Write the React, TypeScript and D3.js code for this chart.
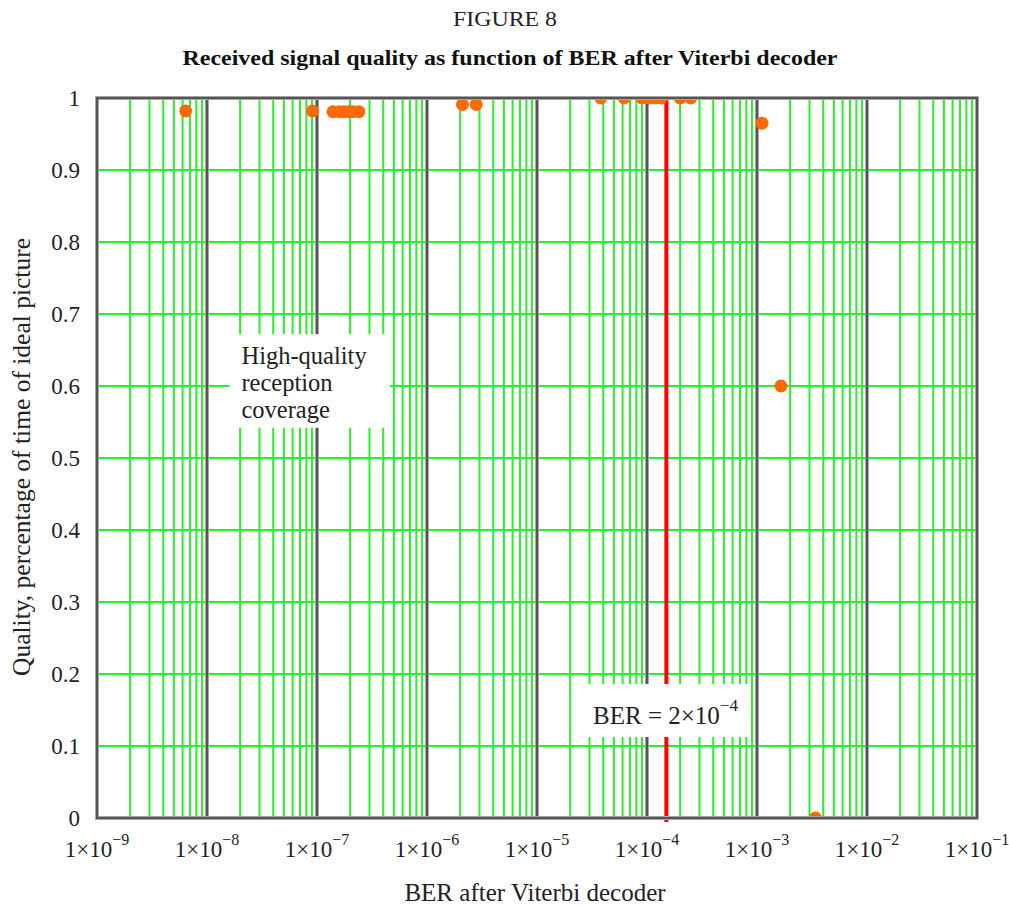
import React from 'react';
import * as d3 from 'd3';

const W = 1009;
const H = 906;

const titleFigure = 'FIGURE 8';
const titleMain = 'Received signal quality as function of BER after Viterbi decoder';
const xAxisTitle = 'BER after Viterbi decoder';
const yAxisTitle = 'Quality, percentage of time of ideal picture';

const xDecadeExponents = [-9, -8, -7, -6, -5, -4, -3, -2, -1];
const yTickValues = [0, 0.1, 0.2, 0.3, 0.4, 0.5, 0.6, 0.7, 0.8, 0.9, 1];
const yTickLabels = ['0', '0.1', '0.2', '0.3', '0.4', '0.5', '0.6', '0.7', '0.8', '0.9', '1'];

const berValues = [
  6.4e-9, 9.1e-8, 1.4e-7, 1.6e-7, 1.75e-7, 1.95e-7, 2.1e-7, 2.4e-7,
  2.1e-6, 2.8e-6,
  3.8e-5, 6.2e-5, 9.0e-5, 1.05e-4, 1.2e-4, 1.35e-4, 2.0e-4, 2.5e-4,
  1.11e-3, 1.65e-3, 3.4e-3,
];
const qualityValues = [
  0.982, 0.982, 0.981, 0.981, 0.981, 0.981, 0.981, 0.981,
  0.991, 0.991,
  1.0, 1.0, 1.0, 1.0, 1.0, 1.0, 1.0, 1.0,
  0.965, 0.6, 0.0,
];

const thresholdBER = 1.5e-4;
const thresholdText = 'BER = 2×10';
const thresholdSup = '−4';

const noteLines = ['High-quality', 'reception', 'coverage'];
const noteBox = { ber0: 1.6e-8, ber1: 4.6e-7, q0: 0.542, q1: 0.672 };
const thresholdBox = { ber0: 2.85e-5, ber1: 8.6e-4, q0: 0.1125, q1: 0.186 };

const FONT = '"Liberation Serif", "Times New Roman", "DejaVu Serif", serif';

export default function App() {
  const x = d3.scaleLog().domain([1e-9, 1e-1]).range([97, 977]);
  const y = d3.scaleLinear().domain([0, 1]).range([818, 98]);
  const [x0, x1] = x.range();
  const [yB, yT] = y.range();

  const minorTicks: number[] = [];
  for (let e = -9; e < -1; e++) {
    for (let k = 2; k <= 9; k++) minorTicks.push(k * Math.pow(10, e));
  }
  const innerDecades = xDecadeExponents.slice(1, -1).map((e) => Math.pow(10, e));

  const green = '#2bef2b';
  const dark = '#555555';

  return (
    <svg width={W} height={H} style={{ position: 'absolute', left: 0, top: 0, background: '#fff' }} fontFamily={FONT}>
      <defs>
        <clipPath id="plotClip">
          <rect x={x0} y={yT} width={x1 - x0} height={yB - yT} />
        </clipPath>
      </defs>
      <rect x={0} y={0} width={W} height={H} fill="#fff" />

      <text x={505} y={26} textAnchor="middle" fontSize={22} fill="#222" textLength={104} lengthAdjust="spacingAndGlyphs">{titleFigure}</text>
      <text x={510} y={65} textAnchor="middle" fontSize={21} fontWeight="bold" fill="#111" textLength={655} lengthAdjust="spacingAndGlyphs">{titleMain}</text>

      {/* horizontal grid */}
      {yTickValues.slice(1, -1).map((v) => (
        <line key={'h' + v} x1={x0} x2={x1} y1={y(v)} y2={y(v)} stroke={green} strokeWidth={2.2} />
      ))}
      {/* minor vertical grid */}
      {minorTicks.map((v) => (
        <line key={'m' + v} x1={x(v)} x2={x(v)} y1={yT} y2={yB} stroke={green} strokeWidth={2} />
      ))}
      {/* decade lines */}
      {innerDecades.map((v) => (
        <g key={'d' + v}>
          <line x1={x(v)} x2={x(v)} y1={yT} y2={yB} stroke="#bbb" strokeWidth={4} />
          <line x1={x(v)} x2={x(v)} y1={yT} y2={yB} stroke={dark} strokeWidth={2.4} />
        </g>
      ))}

      {/* threshold line */}
      <line x1={x(thresholdBER)} x2={x(thresholdBER)} y1={yT} y2={yB + 4} stroke="#ff0000" strokeWidth={4} />

      {/* annotation boxes */}
      <rect x={x(noteBox.ber0)} y={y(noteBox.q1)} width={x(noteBox.ber1) - x(noteBox.ber0)} height={y(noteBox.q0) - y(noteBox.q1)} fill="#fff" />
      {noteLines.map((t, i) => (
        <text key={t} x={x(noteBox.ber0) + 12} y={y(noteBox.q1) + 30 + i * 27} fontSize={24.5} fill="#222">{t}</text>
      ))}
      <rect x={x(thresholdBox.ber0)} y={y(thresholdBox.q1)} width={x(thresholdBox.ber1) - x(thresholdBox.ber0)} height={y(thresholdBox.q0) - y(thresholdBox.q1)} fill="#fff" />
      <text x={x(thresholdBox.ber0) + 6} y={y(thresholdBox.q1) + 40} fontSize={25} fill="#222">
        {thresholdText}
        <tspan dy={-13} fontSize={17}>{thresholdSup}</tspan>
      </text>

      {/* points */}
      <g clipPath="url(#plotClip)">
        {berValues.map((b, i) => (
          <circle key={'p' + i} cx={x(b)} cy={y(qualityValues[i])} r={6.5} fill="#ff6a00" />
        ))}
      </g>

      {/* border */}
      <rect x={x0} y={yT} width={x1 - x0} height={yB - yT} fill="none" stroke="#bbb" strokeWidth={4} />
      <rect x={x0} y={yT} width={x1 - x0} height={yB - yT} fill="none" stroke={dark} strokeWidth={2.4} />

      {/* y tick labels */}
      {yTickValues.map((v, i) => (
        <text key={'yl' + v} x={80} y={y(v)} dy="0.35em" textAnchor="end" fontSize={23} fill="#222">{yTickLabels[i]}</text>
      ))}
      {/* x tick labels */}
      {xDecadeExponents.map((e) => (
        <text key={'xl' + e} x={x(Math.pow(10, e))} y={857} textAnchor="middle" fontSize={23} fill="#222">
          1×10
          <tspan dy={-12} fontSize={16}>{'−' + Math.abs(e)}</tspan>
        </text>
      ))}

      <text x={535} y={901} textAnchor="middle" fontSize={25} fill="#222">{xAxisTitle}</text>
      <text transform={`translate(30, 457) rotate(-90)`} textAnchor="middle" fontSize={25.5} fill="#222">{yAxisTitle}</text>
    </svg>
  );
}
